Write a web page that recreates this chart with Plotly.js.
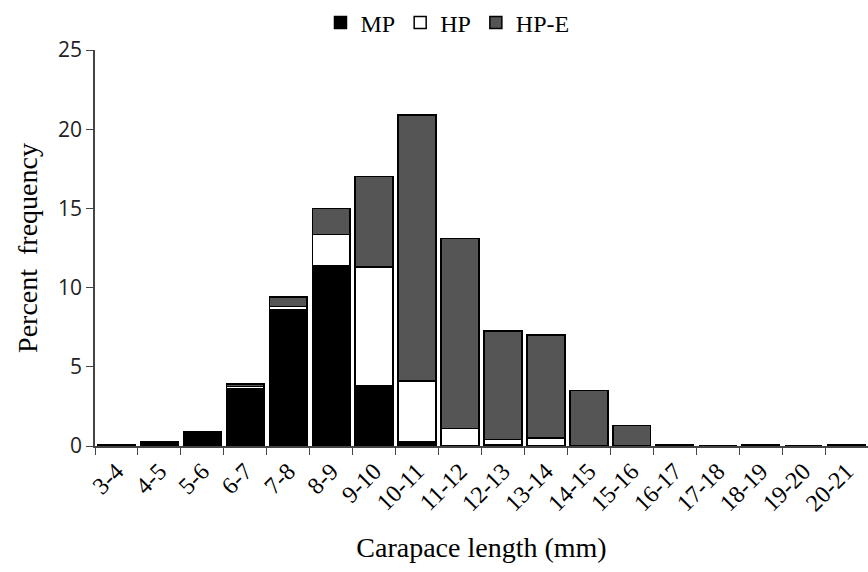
<!DOCTYPE html>
<html><head><meta charset="utf-8">
<script src="https://cdn.plot.ly/plotly-3.0.1.min.js"></script>
<style>html,body{margin:0;padding:0;background:#fff}#chart{width:868px;height:572px}</style>
</head><body><div id="chart"></div>
<script>
const categories = ["3-4","4-5","5-6","6-7","7-8","8-9","9-10","10-11","11-12","12-13","13-14","14-15","15-16","16-17","17-18","18-19","19-20","20-21"];
const mp   = [0.1,0.3,0.9,3.6,8.6,11.4,3.8,0.3,0,0.05,0,0,0,0,0,0,0,0];
const hp   = [0,0,0,0.15,0.2,1.95,7.5,3.8,1.1,0.35,0.5,0,0,0,0,0,0,0];
const hpe  = [0,0,0,0.15,0.6,1.65,5.7,16.8,12.0,6.85,6.5,3.5,1.3,0.1,0,0.1,0,0.1];

const line = {color:'#000', width:1.5};
const traces = [
  {type:'bar', name:'MP', x:categories, y:mp, marker:{color:'#000', line:line}},
  {type:'bar', name:'HP', x:categories, y:hp, marker:{color:'#fff', line:line}},
  {type:'bar', name:'HP-E', x:categories, y:hpe, marker:{color:'#555', line:line}}
];
const layout = {
  width:868, height:572,
  margin:{l:95, r:0, t:47, b:126},
  barmode:'stack', bargap:0.12,
  paper_bgcolor:'#fff', plot_bgcolor:'#fff',
  showlegend:true,
  legend:{orientation:'h', x:0.456, xanchor:'center', y:1.125, yanchor:'top',
    font:{family:'Liberation Serif', size:24, color:'#000'}, traceorder:'normal', itemwidth:30,
    tracegroupgap:0},
  xaxis:{type:'category', tickson:'boundaries', ticks:'outside', ticklen:7, tickcolor:'#444',
    showline:true, linecolor:'#444', linewidth:1.5, tickangle:-45,
    tickfont:{family:'Liberation Serif', size:24, color:'#000'},
    title:{text:'Carapace length (mm)', font:{family:'Liberation Serif', size:28, color:'#000'}, standoff:22},
    showgrid:false, zeroline:false},
  yaxis:{range:[0,25], dtick:5, ticks:'outside', ticklen:7, tickcolor:'#444',
    showline:true, linecolor:'#444', linewidth:1.5,
    tickfont:{family:'Open Sans', size:21, color:'#222'},
    title:{text:'Percent\u00a0\u00a0frequency', font:{family:'Liberation Serif', size:28, color:'#000'}, standoff:12},
    showgrid:false, zeroline:false}
};
Plotly.newPlot('chart', traces, layout, {displayModeBar:false});
</script></body></html>
